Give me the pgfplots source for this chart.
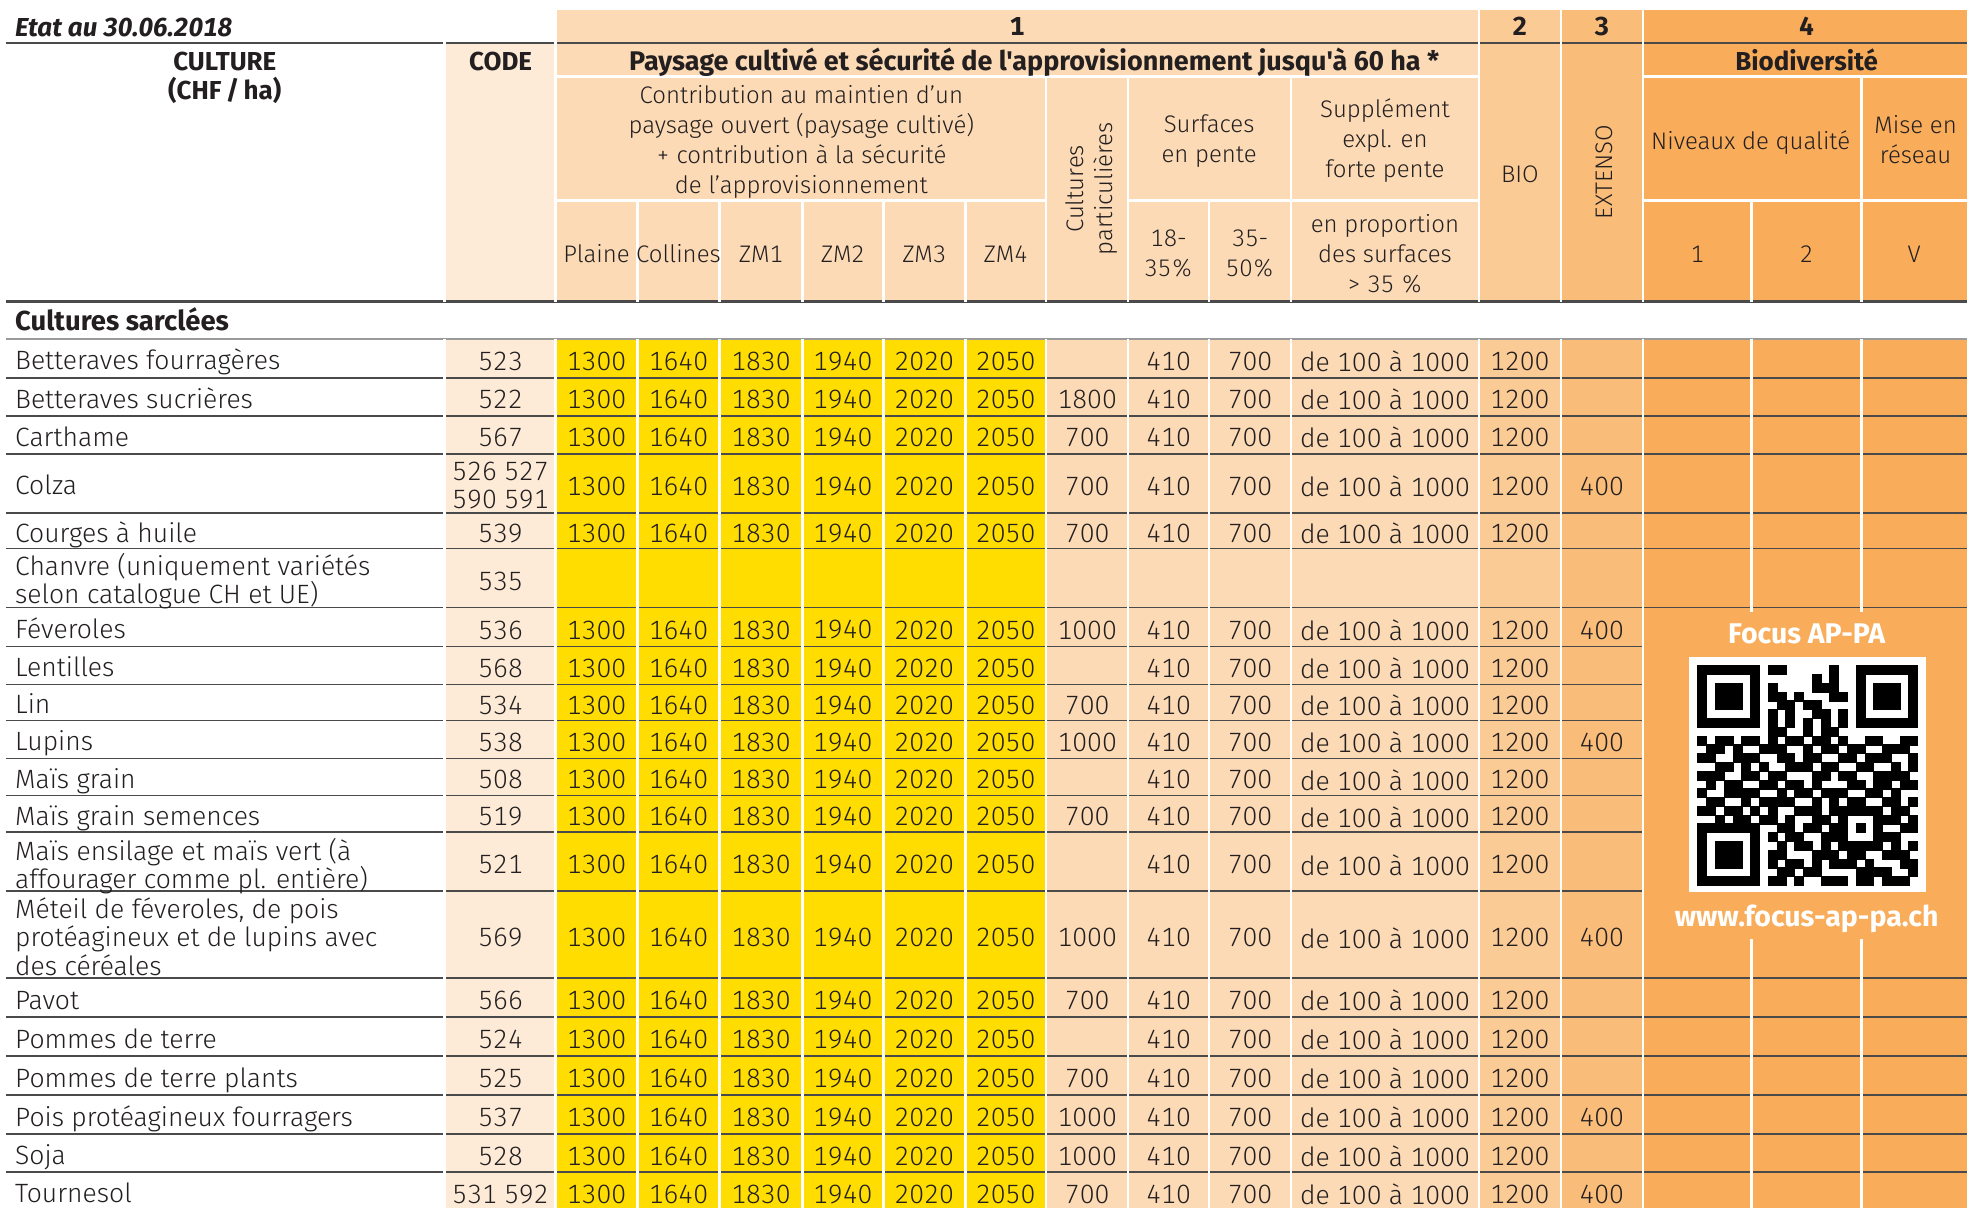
\documentclass[border=0pt]{standalone}
\usepackage{fontspec}
\newfontfamily\boldfam{Fira Sans}[Numbers=Monospaced]
\IfFontExistsTF{Fira Sans Light}{\setmainfont{Fira Sans Light}[Numbers=Monospaced]}{\setmainfont{Fira Sans}[Numbers=Monospaced]}
\usepackage{pgfplots}
\usepackage{pgfplotstable}
\pgfplotsset{compat=1.18}

\definecolor{txt}{HTML}{231F20}
\definecolor{codeC}{HTML}{FDEBD7}
\definecolor{peach}{HTML}{FCDAB5}
\definecolor{bioC}{HTML}{FBCB96}
\definecolor{extC}{HTML}{FABD79}
\definecolor{divC}{HTML}{F9AD5B}
\definecolor{yel}{HTML}{FFDD00}
\definecolor{lineC}{HTML}{4A4A4A}
\definecolor{lineG}{HTML}{9A9A9A}

\newcommand\tx{\fontsize{26.5}{30}\selectfont}
\newcommand\hx{\fontsize{24}{30}\selectfont}
\newcommand\bx{\fontsize{26}{30}\selectfont\boldfam\bfseries}
\newcommand\ap{\char"27\relax}

\newcommand\rect[5]{\addplot[fill=#5, draw=none] coordinates {(#1,#2) (#3,#2) (#3,#4) (#1,#4)};}
\newcommand\hl[5]{\addplot[draw=#4, line width=#5] coordinates {(#2,#1) (#3,#1)};}
\newcommand\wv[3]{\addplot[draw=white, line width=2.5pt] coordinates {(#1,#2) (#1,#3)};}
\newcommand\wh[3]{\addplot[draw=white, line width=3pt] coordinates {(#2,#1) (#3,#1)};}
\newcommand\T[4][]{\node[anchor=base, font=\tx, text=txt, inner sep=0pt, #1] at (axis cs:#2,#3) {#4};}
\newcommand\HH[4][]{\node[anchor=base, font=\hx, text=txt, inner sep=0pt, #1] at (axis cs:#2,#3) {#4};}
\newcommand\col[2]{\addplot[draw=none, nodes near coords, point meta=explicit symbolic] table[x expr=#1, y=y, meta=#2]{\datatab};}

\newcount\qrc
\makeatletter
\newcommand\qrrow[2]{%
  \def\qr@acc{}%
  \qrc=0
  \pgfmathsetmacro\qr@y{670.4+8.8*#1}%
  \@tfor\qr@ch:=#2\do{%
    \if1\qr@ch
      \pgfmathsetmacro\qr@x{1703.4+8.8*\the\qrc}%
      \edef\qr@acc{\qr@acc(\qr@x,\qr@y)}%
    \fi
    \advance\qrc by 1
  }%
  \edef\qr@tmp{\noexpand\addplot[only marks, mark=square*, mark size=4.5pt, mark options={draw=none, fill=black}] coordinates {\qr@acc};}%
  \qr@tmp
}
\makeatother

\pgfplotstableread[col sep=semicolon]{
y;code;p;c;z1;z2;z3;z4;cp;s1;s2;sup;bio;ext
358.5;523;1300;1640;1830;1940;2020;2050;{};410;700;de 100 à 1000;1200;{}
397;522;1300;1640;1830;1940;2020;2050;1800;410;700;de 100 à 1000;1200;{}
435;567;1300;1640;1830;1940;2020;2050;700;410;700;de 100 à 1000;1200;{}
483.5;{};1300;1640;1830;1940;2020;2050;700;410;700;de 100 à 1000;1200;400
531;539;1300;1640;1830;1940;2020;2050;700;410;700;de 100 à 1000;1200;{}
578.5;535;{};{};{};{};{};{};{};{};{};{};{};{}
627.5;536;1300;1640;1830;1940;2020;2050;1000;410;700;de 100 à 1000;1200;400
666;568;1300;1640;1830;1940;2020;2050;{};410;700;de 100 à 1000;1200;{}
703;534;1300;1640;1830;1940;2020;2050;700;410;700;de 100 à 1000;1200;{}
740;538;1300;1640;1830;1940;2020;2050;1000;410;700;de 100 à 1000;1200;400
777.5;508;1300;1640;1830;1940;2020;2050;{};410;700;de 100 à 1000;1200;{}
814.5;519;1300;1640;1830;1940;2020;2050;700;410;700;de 100 à 1000;1200;{}
862.5;521;1300;1640;1830;1940;2020;2050;{};410;700;de 100 à 1000;1200;{}
935.5;569;1300;1640;1830;1940;2020;2050;1000;410;700;de 100 à 1000;1200;400
998.5;566;1300;1640;1830;1940;2020;2050;700;410;700;de 100 à 1000;1200;{}
1037.5;524;1300;1640;1830;1940;2020;2050;{};410;700;de 100 à 1000;1200;{}
1076.5;525;1300;1640;1830;1940;2020;2050;700;410;700;de 100 à 1000;1200;{}
1115.5;537;1300;1640;1830;1940;2020;2050;1000;410;700;de 100 à 1000;1200;400
1154;528;1300;1640;1830;1940;2020;2050;1000;410;700;de 100 à 1000;1200;{}
1192;531 592;1300;1640;1830;1940;2020;2050;700;410;700;de 100 à 1000;1200;400
}\datatab

\begin{document}
\begin{tikzpicture}
\begin{axis}[x=1pt, y=1pt, xmin=0, xmax=1968, ymin=0, ymax=1209, y dir=reverse,
  hide axis, clip=false,
  every node near coord/.append style={anchor=center, font=\tx, text=txt, inner sep=0pt, yshift=-3pt}]
% background and fills
\rect{0}{0}{1968}{1209}{white}
\rect{446}{43}{556}{302}{codeC}
\rect{446}{339}{556}{1209}{codeC}
\rect{556}{10}{1480}{302}{peach}
\rect{556}{339}{1047}{1209}{yel}
\rect{1047}{339}{1480}{1209}{peach}
\rect{1480}{10}{1562}{302}{bioC}
\rect{1480}{339}{1562}{1209}{bioC}
\rect{1562}{10}{1644}{302}{extC}
\rect{1562}{339}{1644}{1209}{extC}
\rect{1644}{10}{1968}{302}{divC}
\rect{1644}{339}{1968}{1209}{divC}
% dark rules
\hl{43}{6}{1968}{lineC}{2pt}
\hl{302}{6}{1968}{lineC}{2.6pt}
\hl{339}{6}{1968}{lineG}{1.8pt}
\pgfplotsinvokeforeach{378,416,454,513,549,608,979,1018,1057,1096,1135,1173}{\hl{#1}{6}{1968}{lineC}{1.8pt}}
\pgfplotsinvokeforeach{647,685,721,759,796,833,892}{\hl{#1}{6}{1644}{lineC}{1.8pt}}
% white separators
\wv{445}{10}{302}
\wv{556}{10}{302}
\pgfplotsinvokeforeach{638,720,803,884,966,1210,1753}{\wv{#1}{201}{302}}
\pgfplotsinvokeforeach{1047,1129,1292,1863}{\wv{#1}{77}{302}}
\pgfplotsinvokeforeach{1480,1562,1644}{\wv{#1}{10}{302}}
\pgfplotsinvokeforeach{445,556,638,720,803,884,966,1047,1129,1210,1292,1480,1562,1644}{\wv{#1}{339}{1209}}
\pgfplotsinvokeforeach{1753,1863}{\wv{#1}{339}{612}\wv{#1}{940}{1209}}
\wh{77}{556}{1480}\wh{77}{1644}{1968}
\wh{201}{556}{1047}\wh{201}{1129}{1480}\wh{201}{1644}{1968}
% QR box
\rect{1690}{657}{1927}{893}{white}
\qrrow{0}{1111111011000001001111111}
\qrrow{1}{1000001000000101001000001}
\qrrow{2}{1011101010000111001011101}
\qrrow{3}{1011101011010001101011101}
\qrrow{4}{1011101001101100001011101}
\qrrow{5}{1000001010100110101000001}
\qrrow{6}{1111111010101010101111111}
\qrrow{7}{0000000011001011000000000}
\qrrow{8}{1011011010110110100110011}
\qrrow{9}{0110100111001011011001110}
\qrrow{10}{1100111001101100110111001}
\qrrow{11}{0011010100111011001100101}
\qrrow{12}{1110011011000110110011110}
\qrrow{13}{0101100110110100011011011}
\qrrow{14}{1001111001011011100110100}
\qrrow{15}{0110010111100101011001101}
\qrrow{16}{1101101010011101111110110}
\qrrow{17}{0010110110100110100011101}
\qrrow{18}{1111111001101101101010011}
\qrrow{19}{1000001010110011100011100}
\qrrow{20}{1011101001011010111110101}
\qrrow{21}{1011101011000111011001110}
\qrrow{22}{1011101010110101110100011}
\qrrow{23}{1000001001101100001111001}
\qrrow{24}{1111111011010011101101110}
\T[text=white, font=\fontsize{28.5}{30}\selectfont\boldfam\bfseries]{1808}{644}{Focus AP-PA}
\T[text=white, font=\fontsize{28.5}{30}\selectfont\boldfam\bfseries]{1808}{927}{www.focus-ap-pa.ch}
% data values
\col{501}{code}
\col{597}{p}
\col{679}{c}
\col{761.5}{z1}
\col{843.5}{z2}
\col{925}{z3}
\col{1006.5}{z4}
\col{1088}{cp}
\col{1169.5}{s1}
\col{1251}{s2}
\col{1386}{sup}
\col{1521}{bio}
\col{1603}{ext}
\T{501}{481}{526 527}
\T{501}{509}{590 591}
% header texts
\T[anchor=base west, font=\fontsize{26}{30}\selectfont\boldfam\bfseries\itshape]{15}{37}{Etat au 30.06.2018}
\T[font=\bx]{1018}{36}{1}
\T[font=\bx]{1521}{36}{2}
\T[font=\bx]{1603}{36}{3}
\T[font=\bx]{1808}{36}{4}
\T[font=\bx]{225}{71}{CULTURE}
\T[font=\bx]{225}{100}{(CHF\,/\,ha)}
\T[font=\bx]{501}{71}{CODE}
\T[font=\fontsize{27}{30}\selectfont\boldfam\bfseries]{1035}{71}{Paysage cultivé et sécurité de l\ap approvisionnement jusqu\ap à 60 ha *}
\T[font=\bx]{1808}{71}{Biodiversité}
\HH{802}{104}{Contribution au maintien d\ap un}
\HH{802}{134}{paysage ouvert (paysage cultivé)}
\HH{802}{164}{+ contribution à la sécurité}
\HH{802}{194}{de l\ap approvisionnement}
\HH[rotate=90]{1084}{189}{Cultures}
\HH[rotate=90]{1113}{189}{particulières}
\HH{1210}{133}{Surfaces}
\HH{1210}{163}{en pente}
\HH{1386}{118}{Supplément}
\HH{1386}{148}{expl. en}
\HH{1386}{178}{forte pente}
\HH{1521}{183}{BIO}
\HH[rotate=90]{1614}{172}{EXTENSO}
\HH{1752}{150}{Niveaux de qualité}
\HH{1917}{134}{Mise en}
\HH{1917}{164}{réseau}
\HH{597}{263}{Plaine}
\HH{679}{263}{Collines}
\HH{761.5}{263}{ZM1}
\HH{843.5}{263}{ZM2}
\HH{925}{263}{ZM3}
\HH{1006.5}{263}{ZM4}
\HH{1169.5}{247}{18-}
\HH{1169.5}{277}{35\%}
\HH{1251}{247}{35-}
\HH{1251}{277}{50\%}
\HH{1386}{233}{en proportion}
\HH{1386}{263}{des surfaces}
\HH{1386}{293}{> 35 \%}
\HH{1698.5}{263}{1}
\HH{1808}{263}{2}
\HH{1915.5}{263}{V}
% row names
\T[anchor=base west, font=\fontsize{27.5}{30}\selectfont\boldfam\bfseries]{15}{331}{Cultures sarclées}
\T[anchor=base west]{15}{370}{Betteraves fourragères}
\T[anchor=base west]{15}{408.5}{Betteraves sucrières}
\T[anchor=base west]{15}{446.5}{Carthame}
\T[anchor=base west]{15}{495}{Colza}
\T[anchor=base west]{15}{542.5}{Courges à huile}
\T[anchor=base west]{15}{576}{Chanvre (uniquement variétés}
\T[anchor=base west]{15}{604}{selon catalogue CH et UE)}
\T[anchor=base west]{15}{639}{Féveroles}
\T[anchor=base west]{15}{677.5}{Lentilles}
\T[anchor=base west]{15}{714.5}{Lin}
\T[anchor=base west]{15}{751.5}{Lupins}
\T[anchor=base west]{15}{789}{Maïs grain}
\T[anchor=base west]{15}{826}{Maïs grain semences}
\T[anchor=base west]{15}{861}{Maïs ensilage et maïs vert (à}
\T[anchor=base west]{15}{889}{affourager comme pl. entière)}
\T[anchor=base west]{15}{919}{Méteil de féveroles, de pois}
\T[anchor=base west]{15}{947}{protéagineux et de lupins avec}
\T[anchor=base west]{15}{976}{des céréales}
\T[anchor=base west]{15}{1010}{Pavot}
\T[anchor=base west]{15}{1049}{Pommes de terre}
\T[anchor=base west]{15}{1088}{Pommes de terre plants}
\T[anchor=base west]{15}{1127}{Pois protéagineux fourragers}
\T[anchor=base west]{15}{1165.5}{Soja}
\T[anchor=base west]{15}{1203.5}{Tournesol}
\end{axis}
\end{tikzpicture}
\end{document}
